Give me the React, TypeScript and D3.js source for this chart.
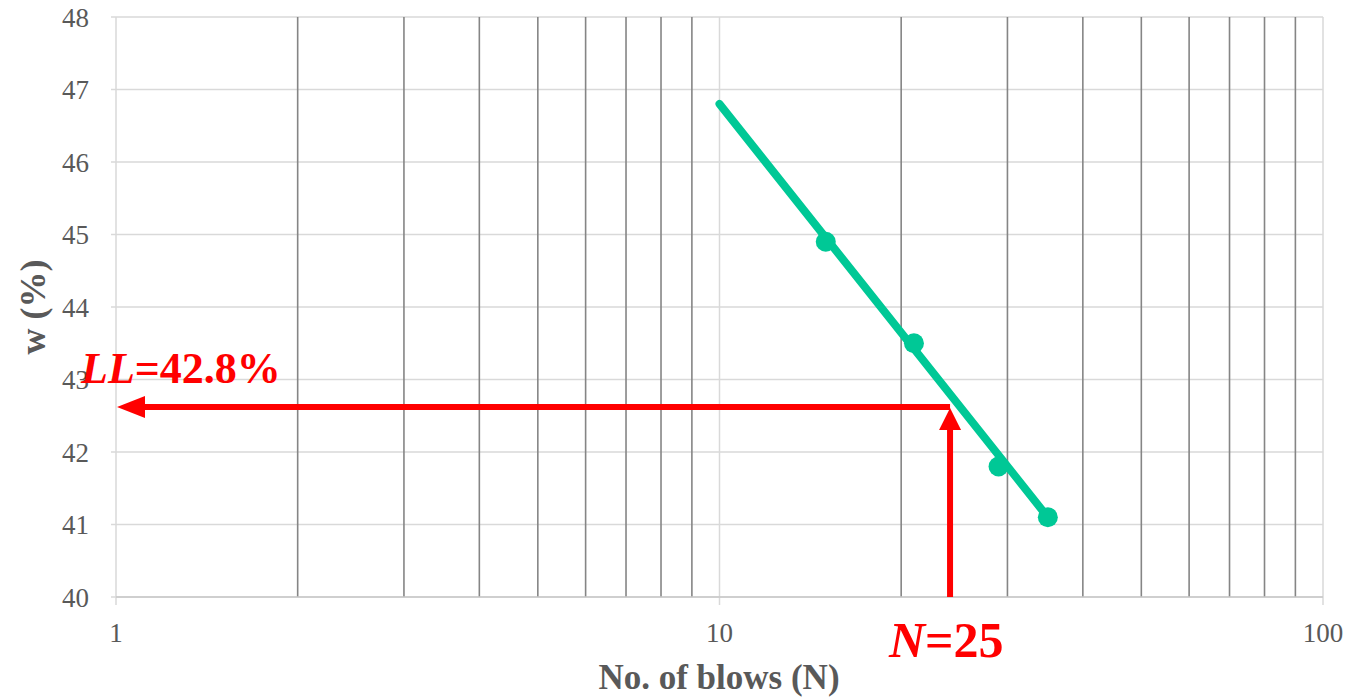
import React from 'react';
import * as d3 from 'd3';

// blows vs water content
const blows = [15, 21, 29, 35];
const water = [44.9, 43.5, 41.8, 41.1];
// fitted trend line ends
const trendN = [10, 35];
const trendW = [46.8, 41.1];
// where the LL arrows meet
const arrowN = 24.1;
const arrowW = 42.62;

const yTicks = [40, 41, 42, 43, 44, 45, 46, 47, 48];
const xMajor = [1, 10, 100];
const xMinor = [2, 3, 4, 5, 6, 7, 8, 9, 20, 30, 40, 50, 60, 70, 80, 90];

const W = 1347;
const H = 700;
const margin = { top: 17, right: 24, bottom: 103, left: 116 };

const serif = '"Liberation Serif", "Times New Roman", serif';
const green = '#00C896';
const red = '#FF0000';

const App: React.FC = () => {
  const x = d3.scaleLog().domain([1, 100]).range([margin.left, W - margin.right]);
  const y = d3.scaleLinear().domain([40, 48]).range([H - margin.bottom, margin.top]);

  const line = d3
    .line<[number, number]>()
    .x((d) => x(d[0]))
    .y((d) => y(d[1]));

  const trend = trendN.map((n, i) => [n, trendW[i]] as [number, number]);

  const ax = x(arrowN);
  const ay = y(arrowW);
  const x0 = x(1);
  const y0 = y(40);

  return (
    <div style={{ position: 'absolute', left: 0, top: 0 }}>
      <svg width={W} height={H} style={{ display: 'block', background: '#fff' }}>
        {/* horizontal grid */}
        {yTicks.map((t) => (
          <line key={'h' + t} x1={x0 - 5} x2={x(100)} y1={y(t)} y2={y(t)} stroke="#d9d9d9" strokeWidth={1.5} />
        ))}
        {/* minor verticals, darker */}
        {xMinor.map((t) => (
          <line key={'m' + t} x1={x(t)} x2={x(t)} y1={y(48)} y2={y0} stroke="#858585" strokeWidth={1.6} />
        ))}
        {/* major verticals, light */}
        {xMajor.map((t) => (
          <line key={'M' + t} x1={x(t)} x2={x(t)} y1={y(48)} y2={y0 + 8} stroke="#d9d9d9" strokeWidth={1.5} />
        ))}
        <line x1={x0} x2={x(100)} y1={y0} y2={y0} stroke="#c8c8c8" strokeWidth={1.5} />

        {/* tick labels */}
        {yTicks.map((t) => (
          <text key={'yl' + t} x={89} y={y(t) + 9.5} textAnchor="end" fontFamily={serif} fontSize={27} fill="#595959">
            {t}
          </text>
        ))}
        {xMajor.map((t) => (
          <text key={'xl' + t} x={x(t)} y={y0 + 45} textAnchor="middle" fontFamily={serif} fontSize={27} fill="#595959">
            {t}
          </text>
        ))}

        {/* axis titles */}
        <text x={719} y={689} textAnchor="middle" fontFamily={serif} fontSize={35} fontWeight="bold" fill="#595959">
          No. of blows (N)
        </text>
        <text
          transform={`translate(45,307) rotate(-90)`}
          textAnchor="middle"
          fontFamily={serif}
          fontSize={36}
          fontWeight="bold"
          fill="#595959"
        >
          w (%)
        </text>

        {/* trend line and points */}
        <path d={line(trend) || ''} fill="none" stroke={green} strokeWidth={8} strokeLinecap="round" />
        {blows.map((n, i) => (
          <circle key={'p' + i} cx={x(n)} cy={y(water[i])} r={10} fill={green} />
        ))}

        {/* LL arrows */}
        <line x1={ax} x2={x0 + 26} y1={ay} y2={ay} stroke={red} strokeWidth={6} />
        <path d={`M${x0 + 1},${ay} L${x0 + 29},${ay - 11} L${x0 + 29},${ay + 11} Z`} fill={red} />
        <line x1={ax} x2={ax} y1={y0} y2={ay + 18} stroke={red} strokeWidth={6} />
        <path d={`M${ax},${ay + 1} L${ax - 11},${ay + 23} L${ax + 11},${ay + 23} Z`} fill={red} />

        <text x={81} y={383} fontFamily={serif} fontSize={44} fontWeight="bold" fill={red}>
          <tspan fontStyle="italic">LL</tspan>=42.8%
        </text>
        <text x={889} y={657} fontFamily={serif} fontSize={50} fontWeight="bold" fill={red}>
          <tspan fontStyle="italic">N</tspan>=25
        </text>
      </svg>
    </div>
  );
};

export default App;
